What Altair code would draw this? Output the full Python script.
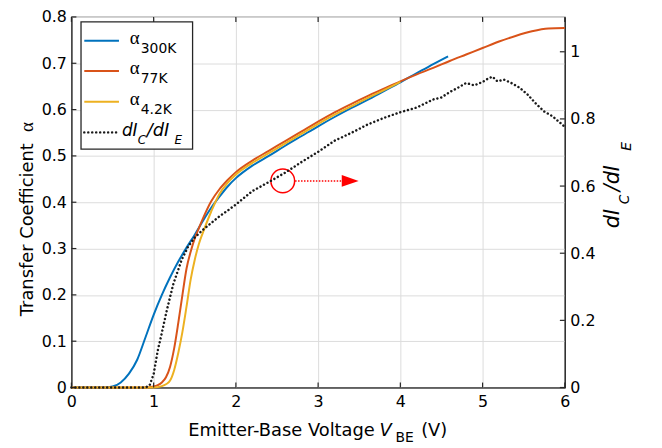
import altair as alt
import pandas as pd

# ---------------- data ----------------
vbe_300 = [0, 0.4, 0.5, 0.6, 0.7, 0.8, 0.9, 1.0, 1.1, 1.2, 1.3, 1.4, 1.5, 1.6, 1.7, 1.8, 1.9, 2.0,
           2.2, 2.4, 2.6, 2.8, 3.0, 3.2, 3.4, 3.6, 3.8, 4.0, 4.2, 4.4, 4.58]
alpha_300 = [0, 0, 0.002, 0.011, 0.03, 0.06, 0.108, 0.157, 0.2, 0.238, 0.272, 0.302, 0.33, 0.36, 0.388,
             0.412, 0.434, 0.452, 0.479, 0.5, 0.522, 0.543, 0.564, 0.584, 0.603, 0.621, 0.64, 0.659,
             0.679, 0.698, 0.715]

vbe_77 = [0, 0.9, 1.0, 1.05, 1.1, 1.15, 1.2, 1.25, 1.3, 1.35, 1.4, 1.45, 1.5, 1.55, 1.6, 1.7, 1.8, 1.9,
          2.0, 2.2, 2.4, 2.6, 2.8, 3.0, 3.2, 3.4, 3.6, 3.8, 4.0, 4.2, 4.4, 4.6, 4.8, 5.0, 5.2, 5.4, 5.6,
          5.8, 6.0]
alpha_77 = [0, 0, 0.002, 0.005, 0.011, 0.022, 0.045, 0.085, 0.14, 0.2, 0.257, 0.293, 0.322, 0.344,
            0.365, 0.402, 0.428, 0.448, 0.465, 0.49, 0.511, 0.532, 0.553, 0.574, 0.594, 0.612, 0.629,
            0.645, 0.661, 0.676, 0.69, 0.705, 0.719, 0.733, 0.747, 0.759, 0.769, 0.775, 0.776]

vbe_4k = [0, 1.0, 1.1, 1.15, 1.2, 1.25, 1.3, 1.35, 1.4, 1.45, 1.5, 1.55, 1.6, 1.7, 1.8, 1.9, 2.0, 2.2,
          2.4, 2.6, 2.8, 3.0, 3.2, 3.4, 3.6, 3.8, 4.0]
alpha_4k = [0, 0, 0.003, 0.007, 0.015, 0.038, 0.075, 0.12, 0.175, 0.233, 0.276, 0.31, 0.335, 0.38,
            0.418, 0.442, 0.46, 0.485, 0.506, 0.527, 0.548, 0.569, 0.589, 0.607, 0.625, 0.642, 0.66]

vbe_d = [0, 0.9, 0.95, 1.0, 1.05, 1.1, 1.16, 1.24, 1.34, 1.42, 1.5, 1.6, 1.7, 1.8, 1.9, 2.0, 2.2, 2.4,
         2.6, 2.8, 3.0, 3.2, 3.4, 3.6, 3.8, 4.0, 4.2, 4.3, 4.4, 4.5, 4.6, 4.7, 4.8, 4.9, 5.0, 5.05,
         5.12, 5.18, 5.26, 5.35, 5.45, 5.55, 5.65, 5.75, 5.85, 5.95, 6.0]
dic_die = [0, 0, 0.006, 0.04, 0.11, 0.163, 0.23, 0.309, 0.38, 0.42, 0.447, 0.47, 0.49, 0.51, 0.527,
           0.545, 0.585, 0.612, 0.64, 0.672, 0.702, 0.735, 0.758, 0.783, 0.803, 0.82, 0.834, 0.846,
           0.858, 0.864, 0.88, 0.893, 0.907, 0.9, 0.91, 0.918, 0.926, 0.912, 0.917, 0.907, 0.893,
           0.872, 0.845, 0.822, 0.808, 0.787, 0.776]

x_ticks = [0, 1, 2, 3, 4, 5, 6]
yl_ticks = [0, 0.1, 0.2, 0.3, 0.4, 0.5, 0.6, 0.7, 0.8]
yr_ticks = [0, 0.2, 0.4, 0.6, 0.8, 1]

# annotation (circle on the dotted curve and arrow to the right axis)
circle_x = [2.57]
circle_y = [0.446]
arrow_x = [2.72, 3.30]
arrow_y = [0.446, 0.446]
head_x = [3.39]
head_y = [0.446]

# ---------------- layout ----------------
W, H = 498, 374
FONT = "DejaVu Sans"
BLUE, ORANGE, YELLOW = "#0072BD", "#D95319", "#EDB120"
DOTS = [0.01, 4]

XS = alt.Scale(domain=[0, 6], nice=False, zero=False)
YL = alt.Scale(domain=[0, 0.8], nice=False)
YR = alt.Scale(domain=[0, 1.1037], nice=False)

x_axis = alt.Axis(values=x_ticks, grid=True, ticks=False, labelPadding=6, labelFlush=False,
                  labelOverlap=False, title="", format="~g")
yl_axis = alt.Axis(values=yl_ticks, grid=True, ticks=False, labelPadding=5, labelFlush=False,
                   labelOverlap=False, title="", format="~g", orient="left")
yr_axis = alt.Axis(values=yr_ticks, grid=False, ticks=False, labelPadding=5, labelFlush=False,
                   labelOverlap=False, title="", format="~g", orient="right")


def series(xs, ys, color):
    df = pd.DataFrame({"x": xs, "y": ys})
    return alt.Chart(df).mark_line(color=color, strokeWidth=2, interpolate="monotone").encode(
        x=alt.X("x:Q", scale=XS, axis=x_axis),
        y=alt.Y("y:Q", scale=YL, axis=yl_axis),
    )


def one():
    return alt.Chart(alt.Data(values=[{}]))


def txt(s, x, y, size=18, angle=0, italic=False, font=FONT, color="black"):
    return one().mark_text(text=s, fontSize=size, angle=angle, font=font,
                           fontStyle="italic" if italic else "normal",
                           align="left", baseline="alphabetic", color=color).encode(
        x=alt.value(x), y=alt.value(y))


blue = series(vbe_300, alpha_300, BLUE)
orange = series(vbe_77, alpha_77, ORANGE)
yellow = series(vbe_4k, alpha_4k, YELLOW)

xt = pd.DataFrame({"v": x_ticks})
ylt = pd.DataFrame({"v": yl_ticks})
yrt = pd.DataFrame({"v": yr_ticks})

tick_bottom = alt.Chart(xt).mark_rule(color="#262626", strokeWidth=1.2).encode(
    x=alt.X("v:Q", scale=XS, axis=x_axis), y=alt.value(H), y2=alt.value(H - 5))
tick_top = alt.Chart(xt).mark_rule(color="#262626", strokeWidth=1.2).encode(
    x=alt.X("v:Q", scale=XS, axis=x_axis), y=alt.value(0), y2=alt.value(5))
tick_left = alt.Chart(ylt).mark_rule(color="#262626", strokeWidth=1.2).encode(
    y=alt.Y("v:Q", scale=YL, axis=yl_axis), x=alt.value(0), x2=alt.value(5))

circ = alt.Chart(pd.DataFrame({"x": circle_x, "y": circle_y})).mark_point(
    shape="circle", size=573, filled=False, stroke="#FF0000", strokeWidth=1.5, opacity=1).encode(
    x=alt.X("x:Q", scale=XS, axis=x_axis), y=alt.Y("y:Q", scale=YL, axis=yl_axis))
arrow = alt.Chart(pd.DataFrame({"x": arrow_x, "y": arrow_y})).mark_line(
    color="#FF0000", strokeWidth=1.5, strokeDash=[1.5, 1.5]).encode(
    x=alt.X("x:Q", scale=XS, axis=x_axis), y=alt.Y("y:Q", scale=YL, axis=yl_axis))
head = alt.Chart(pd.DataFrame({"x": head_x, "y": head_y})).mark_point(
    shape="M-1,-0.7L1,0L-1,0.7Z", size=289, filled=True, fill="#FF0000", opacity=1,
    strokeWidth=0).encode(
    x=alt.X("x:Q", scale=XS, axis=x_axis), y=alt.Y("y:Q", scale=YL, axis=yl_axis))

left = alt.layer(blue, orange, yellow, circ, arrow, head, tick_bottom, tick_top, tick_left)

dotted = alt.Chart(pd.DataFrame({"x": vbe_d, "y": dic_die})).mark_line(
    color="#1a1a1a", strokeWidth=2.5, strokeDash=DOTS, strokeCap="round").encode(
    x=alt.X("x:Q", scale=XS, axis=x_axis),
    y=alt.Y("y:Q", scale=YR, axis=yr_axis))
tick_right = alt.Chart(yrt).mark_rule(color="#262626", strokeWidth=1.2).encode(
    y=alt.Y("v:Q", scale=YR, axis=yr_axis), x=alt.value(W - 5), x2=alt.value(W))

right = alt.layer(dotted, tick_right)

# ---------------- custom legend ----------------
leg_box = one().mark_rect(fill="white", stroke="#262626", strokeWidth=1.3).encode(
    x=alt.value(9.7), x2=alt.value(122.3), y=alt.value(5), y2=alt.value(133.3))


def leg_line(y, color, dotted_line=False):
    kw = dict(color=color, strokeWidth=2)
    if dotted_line:
        kw.update(strokeDash=DOTS, strokeCap="round", strokeWidth=2.5)
    return one().mark_rule(**kw).encode(x=alt.value(13), x2=alt.value(48), y=alt.value(y), y2=alt.value(y))


rows = [24, 54.5, 85.5, 116.5]
legend = [leg_box,
          leg_line(rows[0], BLUE), leg_line(rows[1], ORANGE), leg_line(rows[2], YELLOW),
          leg_line(rows[3], "#1a1a1a", True),
          txt("α", 59, rows[0] + 3, 19, font="Liberation Serif"),
          txt("300K", 70, rows[0] + 12.5, 14),
          txt("α", 59, rows[1] + 3, 19, font="Liberation Serif"),
          txt("77K", 70, rows[1] + 12.5, 14),
          txt("α", 59, rows[2] + 3, 19, font="Liberation Serif"),
          txt("4.2K", 70, rows[2] + 12.5, 14),
          txt("dI", 51, rows[3] + 4, 17, italic=True),
          txt("C", 67, rows[3] + 12, 12, italic=True),
          txt("/dI", 76, rows[3] + 4, 18, italic=True),
          txt("E", 104, rows[3] + 12, 12, italic=True)]

# ---------------- axis titles ----------------
titles = [
    txt("Emitter-Base Voltage", 118, 423, 18),
    txt("V", 311, 423, 18, italic=True),
    txt("BE", 327, 429, 14),
    txt("(V)", 353, 423, 18),
    txt("Transfer Coefficient", -38.7, 302, 18, angle=270),
    txt("α", -38.7, 116, 19, angle=270, font="Liberation Serif"),
    txt("dI", 553, 213.3, 21, angle=270, italic=True),
    txt("C", 563, 189, 14, angle=270, italic=True),
    txt("/dI", 553, 176, 21, angle=270, italic=True),
    txt("E", 565, 135, 14, angle=270, italic=True),
]

chart = alt.layer(left, right, *legend, *titles).resolve_scale(y="independent").properties(
    width=W, height=H,
    autosize=alt.AutoSizeParams(type="none"),
    padding={"left": 64, "top": 7, "right": 90, "bottom": 58},
    background="white",
).configure_view(stroke="#262626", strokeWidth=1.2).configure_axis(
    labelFont=FONT, labelFontSize=16, labelColor="black",
    domainColor="#262626", domainWidth=1.2,
    gridColor="#dcdcdc", gridWidth=1,
)

chart.save("out.html", embed_options={"renderer": "svg", "actions": False})
